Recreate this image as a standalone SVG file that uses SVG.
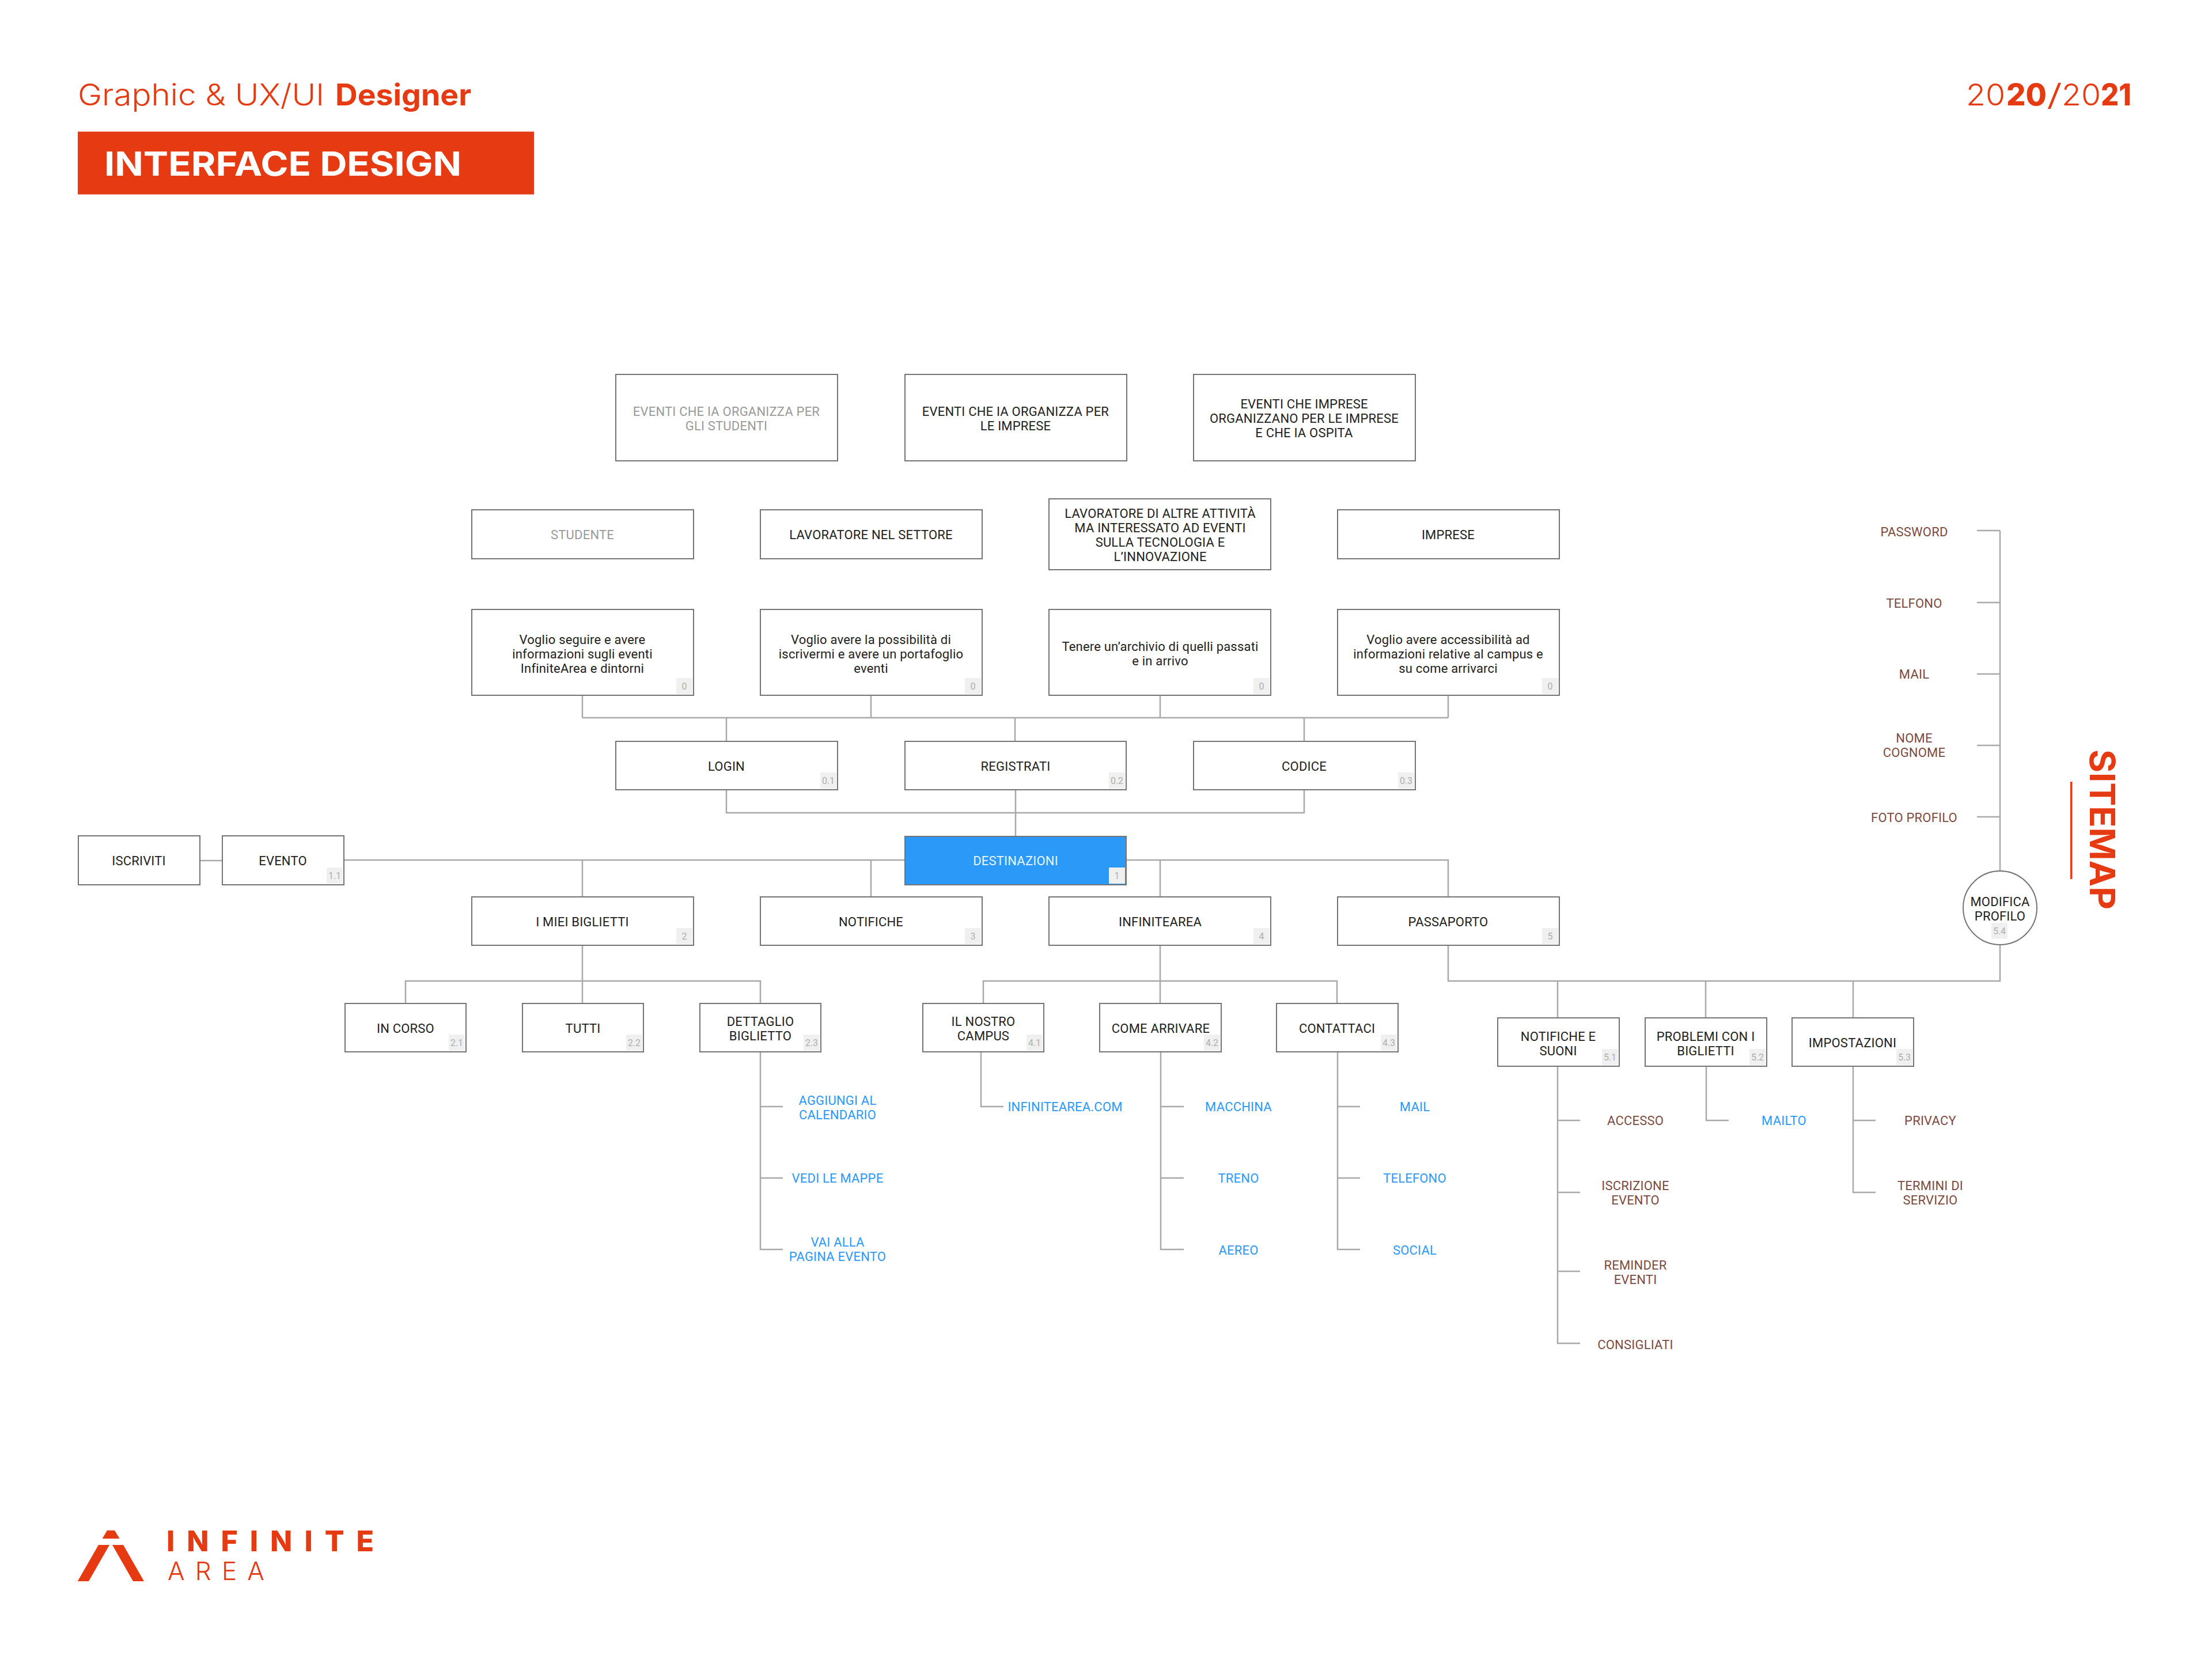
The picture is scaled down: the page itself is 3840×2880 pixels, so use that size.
<svg xmlns="http://www.w3.org/2000/svg" width="3840" height="2880" viewBox="0 0 3840 2880">
<style>
text{font-family:Roboto,"Liberation Sans",sans-serif}
.n rect.b,.n circle{fill:#fff;stroke:#747474;stroke-width:2}
.c{fill:none;stroke:#a9a9a9;stroke-width:2.5}
.t{font-size:22px;letter-spacing:.2px;fill:#222;text-anchor:middle}
.g{fill:#9a9a9a}
.w{fill:#e8f4ff}
.br{font-size:22px;letter-spacing:.2px;fill:#7b4a42;text-anchor:middle}
.bl{font-size:22px;letter-spacing:.2px;fill:#2b99f8;text-anchor:middle}
.bd{fill:#f0f0f0}
.bt{font-size:16px;fill:#aeaeae;text-anchor:middle}
.r{fill:#e63a12}
.h{font-family:Inter,"Liberation Sans",sans-serif;fill:#e63a12}
</style>
<rect width="3840" height="2880" fill="#fff"/>
<g id="header">
<text class="h" x="135" y="183" font-size="52" font-weight="300" textLength="428" lengthAdjust="spacingAndGlyphs">Graphic &amp; UX/UI</text>
<text class="h" x="582" y="183" font-size="52" font-weight="700" textLength="236" lengthAdjust="spacingAndGlyphs">Designer</text>
<rect class="r" x="135" y="228.5" width="792" height="109"/>
<text x="181" y="305" font-size="58" font-weight="700" fill="#fff" style="font-family:Inter,'Liberation Sans',sans-serif" textLength="620" lengthAdjust="spacingAndGlyphs">INTERFACE DESIGN</text>
<text class="h" y="183" font-size="52" font-weight="300" x="3413" textLength="68" lengthAdjust="spacingAndGlyphs">20</text>
<text class="h" y="183" font-size="52" font-weight="800" x="3483" textLength="70" lengthAdjust="spacingAndGlyphs">20</text>
<text class="h" y="183" font-size="52" font-weight="300" x="3553" textLength="27" lengthAdjust="spacingAndGlyphs">/</text>
<text class="h" y="183" font-size="52" font-weight="300" x="3579" textLength="68" lengthAdjust="spacingAndGlyphs">20</text>
<text class="h" y="183" font-size="52" font-weight="800" x="3647" textLength="53" lengthAdjust="spacingAndGlyphs">21</text>
</g>
<g id="connectors" class="c">
<path class="c" d="M1011 1207V1246M1512 1207V1246M2014 1207V1246M2514 1207V1246M1011 1246H2514M1261 1246V1287M1762 1246V1287M2264 1246V1287"/>
<path class="c" d="M1261 1371V1411H2264V1371M1763 1371V1452"/>
<path class="c" d="M347 1494H386M597 1493H1571M1955 1493H2514V1557M1011 1493V1557M1512 1493V1557M2014 1493V1557"/>
<path class="c" d="M1011 1641V1742M704 1742V1703H1320V1742"/>
<path class="c" d="M2014 1641V1742M1707 1742V1703H2321V1742"/>
<path class="c" d="M2514 1641V1703H3472V1640M3472 1512V921M3432 921H3472M3432 1046H3472M3432 1170H3472M3432 1294H3472M3432 1418H3472"/>
<path class="c" d="M2704 1703V1767M2961 1703V1767M3217 1703V1767"/>
<path class="c" d="M1320 1826V2169H1359M1320 1921H1359M1320 2045H1359"/>
<path class="c" d="M1703 1826V1921H1742"/>
<path class="c" d="M2015 1826V2169H2055M2015 1921H2055M2015 2045H2055"/>
<path class="c" d="M2322 1826V2169H2361M2322 1921H2361M2322 2045H2361"/>
<path class="c" d="M2704 1851V2332H2743M2704 1945H2743M2704 2070H2743M2704 2207H2743"/>
<path class="c" d="M2962 1851V1945H3001"/>
<path class="c" d="M3217 1851V2070H3256M3217 1945H3256"/>
</g>
<g id="n-eventi-studenti" class="n"><rect class="b" x="1069" y="650" width="385" height="150"/><text class="t g" x="1261" y="722">EVENTI CHE IA ORGANIZZA PER<tspan x="1261" dy="25">GLI STUDENTI</tspan></text></g>
<g id="n-eventi-imprese" class="n"><rect class="b" x="1571" y="650" width="385" height="150"/><text class="t" x="1763" y="722">EVENTI CHE IA ORGANIZZA PER<tspan x="1763" dy="25">LE IMPRESE</tspan></text></g>
<g id="n-eventi-ospita" class="n"><rect class="b" x="2072" y="650" width="385" height="150"/><text class="t" x="2264" y="709">EVENTI CHE IMPRESE<tspan x="2264" dy="25">ORGANIZZANO PER LE IMPRESE</tspan><tspan x="2264" dy="25">E CHE IA OSPITA</tspan></text></g>
<g id="n-studente" class="n"><rect class="b" x="819" y="885" width="385" height="85"/><text class="t g" x="1011" y="936">STUDENTE</text></g>
<g id="n-lavoratore" class="n"><rect class="b" x="1320" y="885" width="385" height="85"/><text class="t" x="1512" y="936">LAVORATORE NEL SETTORE</text></g>
<g id="n-lavoratore-altre" class="n"><rect class="b" x="1821" y="866" width="385" height="123"/><text class="t" x="2014" y="899">LAVORATORE DI ALTRE ATTIVITÀ<tspan x="2014" dy="25">MA INTERESSATO AD EVENTI</tspan><tspan x="2014" dy="25">SULLA TECNOLOGIA E</tspan><tspan x="2014" dy="25">L’INNOVAZIONE</tspan></text></g>
<g id="n-imprese" class="n"><rect class="b" x="2322" y="885" width="385" height="85"/><text class="t" x="2514" y="936">IMPRESE</text></g>
<g id="n-need1" class="n"><rect class="b" x="819" y="1058" width="385" height="149"/><rect class="bd" x="1174" y="1177" width="28" height="28"/><text class="bt" x="1188" y="1197">0</text><text class="t" x="1011" y="1118">Voglio seguire e avere<tspan x="1011" dy="25">informazioni sugli eventi</tspan><tspan x="1011" dy="25">InfiniteArea e dintorni</tspan></text></g>
<g id="n-need2" class="n"><rect class="b" x="1320" y="1058" width="385" height="149"/><rect class="bd" x="1675" y="1177" width="28" height="28"/><text class="bt" x="1689" y="1197">0</text><text class="t" x="1512" y="1118">Voglio avere la possibilità di<tspan x="1512" dy="25">iscrivermi e avere un portafoglio</tspan><tspan x="1512" dy="25">eventi</tspan></text></g>
<g id="n-need3" class="n"><rect class="b" x="1821" y="1058" width="385" height="149"/><rect class="bd" x="2176" y="1177" width="28" height="28"/><text class="bt" x="2190" y="1197">0</text><text class="t" x="2014" y="1130">Tenere un’archivio di quelli passati<tspan x="2014" dy="25">e in arrivo</tspan></text></g>
<g id="n-need4" class="n"><rect class="b" x="2322" y="1058" width="385" height="149"/><rect class="bd" x="2677" y="1177" width="28" height="28"/><text class="bt" x="2691" y="1197">0</text><text class="t" x="2514" y="1118">Voglio avere accessibilità ad<tspan x="2514" dy="25">informazioni relative al campus e</tspan><tspan x="2514" dy="25">su come arrivarci</tspan></text></g>
<g id="n-login" class="n"><rect class="b" x="1069" y="1287" width="385" height="84"/><rect class="bd" x="1424" y="1341" width="28" height="28"/><text class="bt" x="1438" y="1361">0.1</text><text class="t" x="1261" y="1338">LOGIN</text></g>
<g id="n-registrati" class="n"><rect class="b" x="1571" y="1287" width="384" height="84"/><rect class="bd" x="1925" y="1341" width="28" height="28"/><text class="bt" x="1939" y="1361">0.2</text><text class="t" x="1763" y="1338">REGISTRATI</text></g>
<g id="n-codice" class="n"><rect class="b" x="2072" y="1287" width="385" height="84"/><rect class="bd" x="2427" y="1341" width="28" height="28"/><text class="bt" x="2441" y="1361">0.3</text><text class="t" x="2264" y="1338">CODICE</text></g>
<g id="n-iscriviti" class="n"><rect class="b" x="136" y="1451" width="211" height="85"/><text class="t" x="241" y="1502">ISCRIVITI</text></g>
<g id="n-evento" class="n"><rect class="b" x="386" y="1451" width="211" height="85"/><rect class="bd" x="567" y="1506" width="28" height="28"/><text class="bt" x="581" y="1526">1.1</text><text class="t" x="491" y="1502">EVENTO</text></g>
<g id="n-destinazioni" class="n"><rect class="b" style="fill:#2b99f8" x="1571" y="1452" width="384" height="84"/><rect class="bd" x="1925" y="1506" width="28" height="28"/><text class="bt" x="1939" y="1526">1</text><text class="t w" x="1763" y="1502">DESTINAZIONI</text></g>
<g id="n-biglietti" class="n"><rect class="b" x="819" y="1557" width="385" height="84"/><rect class="bd" x="1174" y="1611" width="28" height="28"/><text class="bt" x="1188" y="1631">2</text><text class="t" x="1011" y="1608">I MIEI BIGLIETTI</text></g>
<g id="n-notifiche" class="n"><rect class="b" x="1320" y="1557" width="385" height="84"/><rect class="bd" x="1675" y="1611" width="28" height="28"/><text class="bt" x="1689" y="1631">3</text><text class="t" x="1512" y="1608">NOTIFICHE</text></g>
<g id="n-infinitearea" class="n"><rect class="b" x="1821" y="1557" width="385" height="84"/><rect class="bd" x="2176" y="1611" width="28" height="28"/><text class="bt" x="2190" y="1631">4</text><text class="t" x="2014" y="1608">INFINITEAREA</text></g>
<g id="n-passaporto" class="n"><rect class="b" x="2322" y="1557" width="385" height="84"/><rect class="bd" x="2677" y="1611" width="28" height="28"/><text class="bt" x="2691" y="1631">5</text><text class="t" x="2514" y="1608">PASSAPORTO</text></g>
<g id="n-incorso" class="n"><rect class="b" x="599" y="1742" width="210" height="84"/><rect class="bd" x="779" y="1796" width="28" height="28"/><text class="bt" x="793" y="1816">2.1</text><text class="t" x="704" y="1793">IN CORSO</text></g>
<g id="n-tutti" class="n"><rect class="b" x="907" y="1742" width="210" height="84"/><rect class="bd" x="1087" y="1796" width="28" height="28"/><text class="bt" x="1101" y="1816">2.2</text><text class="t" x="1012" y="1793">TUTTI</text></g>
<g id="n-dettaglio" class="n"><rect class="b" x="1215" y="1742" width="210" height="84"/><rect class="bd" x="1395" y="1796" width="28" height="28"/><text class="bt" x="1409" y="1816">2.3</text><text class="t" x="1320" y="1781">DETTAGLIO<tspan x="1320" dy="25">BIGLIETTO</tspan></text></g>
<g id="n-campus" class="n"><rect class="b" x="1602" y="1742" width="210" height="84"/><rect class="bd" x="1782" y="1796" width="28" height="28"/><text class="bt" x="1796" y="1816">4.1</text><text class="t" x="1707" y="1781">IL NOSTRO<tspan x="1707" dy="25">CAMPUS</tspan></text></g>
<g id="n-arrivare" class="n"><rect class="b" x="1909" y="1742" width="211" height="84"/><rect class="bd" x="2090" y="1796" width="28" height="28"/><text class="bt" x="2104" y="1816">4.2</text><text class="t" x="2015" y="1793">COME ARRIVARE</text></g>
<g id="n-contattaci" class="n"><rect class="b" x="2216" y="1742" width="211" height="84"/><rect class="bd" x="2397" y="1796" width="28" height="28"/><text class="bt" x="2411" y="1816">4.3</text><text class="t" x="2321" y="1793">CONTATTACI</text></g>
<g id="n-suoni" class="n"><rect class="b" x="2600" y="1767" width="211" height="84"/><rect class="bd" x="2781" y="1821" width="28" height="28"/><text class="bt" x="2795" y="1841">5.1</text><text class="t" x="2705" y="1807">NOTIFICHE E<tspan x="2705" dy="25">SUONI</tspan></text></g>
<g id="n-problemi" class="n"><rect class="b" x="2856" y="1767" width="211" height="84"/><rect class="bd" x="3037" y="1821" width="28" height="28"/><text class="bt" x="3051" y="1841">5.2</text><text class="t" x="2961" y="1807">PROBLEMI CON I<tspan x="2961" dy="25">BIGLIETTI</tspan></text></g>
<g id="n-impostazioni" class="n"><rect class="b" x="3111" y="1767" width="211" height="84"/><rect class="bd" x="3292" y="1821" width="28" height="28"/><text class="bt" x="3306" y="1841">5.3</text><text class="t" x="3216" y="1818">IMPOSTAZIONI</text></g>
<g id="n-modifica" class="n"><circle cx="3472" cy="1576" r="64"/><rect class="bd" x="3457" y="1602" width="28" height="28"/><text class="bt" x="3471" y="1622">5.4</text><text class="t" x="3472" y="1573">MODIFICA<tspan x="3472" dy="25">PROFILO</tspan></text></g>
<g id="leaves">
<text class="bl" x="1454" y="1918">AGGIUNGI AL<tspan x="1454" dy="25">CALENDARIO</tspan></text>
<text class="bl" x="1454" y="2053">VEDI LE MAPPE</text>
<text class="bl" x="1454" y="2164">VAI ALLA<tspan x="1454" dy="25">PAGINA EVENTO</tspan></text>
<text class="bl" x="1849" y="1929">INFINITEAREA.COM</text>
<text class="bl" x="2150" y="1929">MACCHINA</text>
<text class="bl" x="2150" y="2053">TRENO</text>
<text class="bl" x="2150" y="2178">AEREO</text>
<text class="bl" x="2456" y="1929">MAIL</text>
<text class="bl" x="2456" y="2053">TELEFONO</text>
<text class="bl" x="2456" y="2178">SOCIAL</text>
<text class="br" x="2839" y="1953">ACCESSO</text>
<text class="br" x="2839" y="2066">ISCRIZIONE<tspan x="2839" dy="25">EVENTO</tspan></text>
<text class="br" x="2839" y="2204">REMINDER<tspan x="2839" dy="25">EVENTI</tspan></text>
<text class="br" x="2839" y="2342">CONSIGLIATI</text>
<text class="bl" x="3097" y="1953">MAILTO</text>
<text class="br" x="3351" y="1953">PRIVACY</text>
<text class="br" x="3351" y="2066">TERMINI DI<tspan x="3351" dy="25">SERVIZIO</tspan></text>
<text class="br" x="3323" y="931">PASSWORD</text>
<text class="br" x="3323" y="1055">TELFONO</text>
<text class="br" x="3323" y="1178">MAIL</text>
<text class="br" x="3323" y="1289">NOME<tspan x="3323" dy="25">COGNOME</tspan></text>
<text class="br" x="3323" y="1427">FOTO PROFILO</text>
</g>
<g id="sitemap">
<text class="h" transform="translate(3628 1301) rotate(90)" font-size="60" font-weight="700" textLength="278" lengthAdjust="spacingAndGlyphs">SITEMAP</text>
<rect class="r" x="3594" y="1357" width="3.5" height="169"/>
</g>
<g id="logo">
<polygon class="r" points="177.7,2671 186,2656.7 199,2656.7 207.5,2671"/>
<polygon class="r" points="134.8,2745 171,2682 190,2682 154,2745"/>
<polygon class="r" points="195,2682 214,2682 250,2745 231,2745"/>
<text class="h" x="289" y="2693" font-size="50" font-weight="800" textLength="360">INFINITE</text>
<text class="h" x="291" y="2743" font-size="44" font-weight="300" textLength="168">AREA</text>
</g>
</svg>
